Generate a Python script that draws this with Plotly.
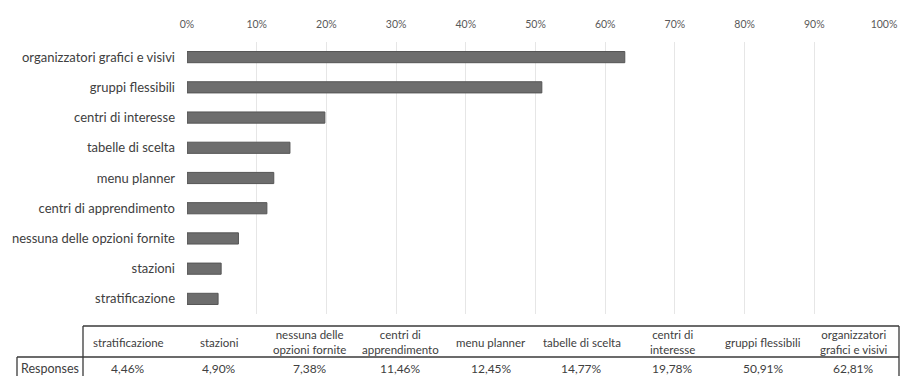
import plotly.graph_objects as go

categories = ["stratificazione", "stazioni", "nessuna delle opzioni fornite",
              "centri di apprendimento", "menu planner", "tabelle di scelta",
              "centri di interesse", "gruppi flessibili", "organizzatori grafici e visivi"]
values = [4.46, 4.90, 7.38, 11.46, 12.45, 14.77, 19.78, 50.91, 62.81]
header_labels = ["stratificazione", "stazioni", "nessuna delle<br>opzioni fornite",
                 "centri di<br>apprendimento", "menu planner", "tabelle di scelta",
                 "centri di<br>interesse", "gruppi flessibili", "organizzatori<br>grafici e visivi"]
row_label = "Responses"
x_ticks = [0, 0.1, 0.2, 0.3, 0.4, 0.5, 0.6, 0.7, 0.8, 0.9, 1.0]

W, H = 901, 376
L, R, T, B = 187, 17, 42, 62
PW, PH = W - L - R, H - T - B
FONT = "Lato"


def px(x):
    return (x - L) / PW


def py(y):
    return (H - B - y) / PH


fig = go.Figure()
fig.add_trace(go.Bar(
    x=[v / 100 for v in values], y=categories, orientation="h",
    marker=dict(color="#6d6d6d", line=dict(color="#555555", width=1)),
    hoverinfo="skip"))

# table geometry (pixels)
tab_left, tab_first, tab_right = 17, 83, 899
tab_top, tab_mid, tab_bot = 326, 357, 377
line_style = dict(color="#3a3a3a", width=1.3)
shapes = [
    dict(type="line", x0=px(tab_first), x1=px(tab_right), y0=py(tab_top), y1=py(tab_top)),
    dict(type="line", x0=px(tab_left), x1=px(tab_right), y0=py(tab_mid), y1=py(tab_mid)),
    dict(type="line", x0=px(tab_left), x1=px(tab_right), y0=py(tab_bot), y1=py(tab_bot)),
    dict(type="line", x0=px(tab_first), x1=px(tab_first), y0=py(tab_top), y1=py(tab_bot)),
    dict(type="line", x0=px(tab_right), x1=px(tab_right), y0=py(tab_top), y1=py(tab_bot)),
    dict(type="line", x0=px(tab_left), x1=px(tab_left), y0=py(tab_mid), y1=py(tab_bot)),
]
for s in shapes:
    s.update(xref="paper", yref="paper", line=line_style)

annotations = []
n = len(categories)
colw = (tab_right - tab_first) / n
for i, (lab, v) in enumerate(zip(header_labels, values)):
    cx = tab_first + colw * (i + 0.5)
    annotations.append(dict(
        x=px(cx), y=py((tab_top + tab_mid) / 2 + 0.5), xref="paper", yref="paper",
        text=lab, showarrow=False, xanchor="center", yanchor="middle",
        font=dict(family=FONT, size=11.5, color="#404040")))
    annotations.append(dict(
        x=px(cx), y=py(368.5), xref="paper", yref="paper",
        text=f"{v:.2f}%".replace(".", ","), showarrow=False,
        xanchor="center", yanchor="middle",
        font=dict(family=FONT, size=12, color="#404040")))
annotations.append(dict(
    x=px(19), y=py(368.5), xref="paper", yref="paper", text=row_label,
    showarrow=False, xanchor="left", yanchor="middle",
    font=dict(family=FONT, size=12.5, color="#404040")))

fig.update_layout(
    width=W, height=H,
    margin=dict(l=L, r=R, t=T, b=B, autoexpand=False),
    plot_bgcolor="white", paper_bgcolor="white",
    showlegend=False, bargap=0.63,
    font=dict(family=FONT, color="#404040"),
    xaxis=dict(side="top", range=[0, 1], tickvals=x_ticks, tickformat=".0%",
               showgrid=True, gridcolor="#e6e6e6", gridwidth=1, zeroline=False,
               showline=False, ticks="", ticklabelstandoff=11,
               tickfont=dict(family=FONT, size=10.5, color="#595959")),
    yaxis=dict(showgrid=False, zeroline=False, showline=False, ticks="",
               ticklabelstandoff=11, range=[-0.5, n - 0.5],
               tickfont=dict(family=FONT, size=13, color="#404040")),
    shapes=shapes, annotations=annotations,
)

fig.write_html("out.html")
